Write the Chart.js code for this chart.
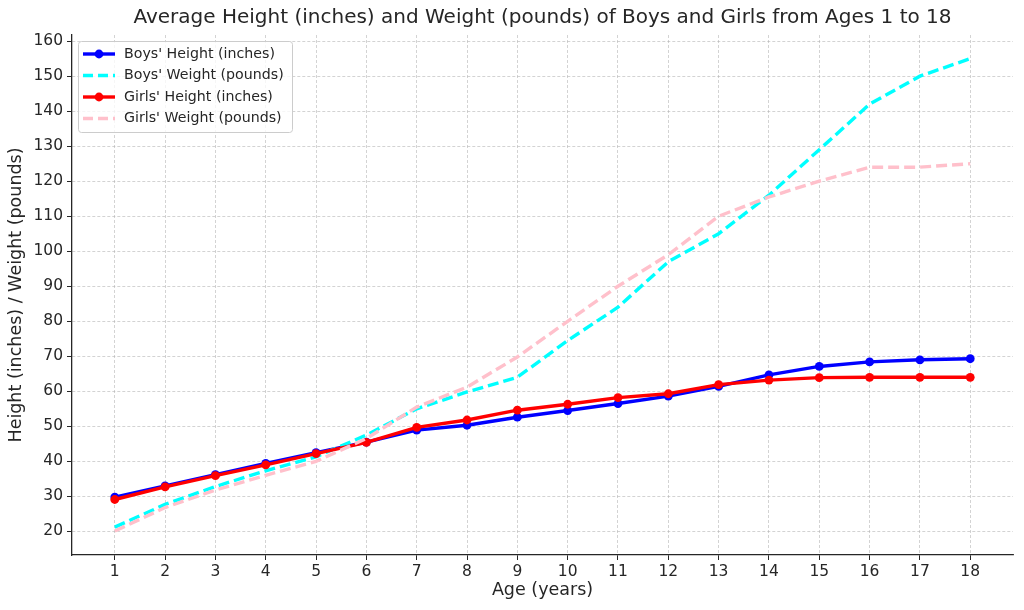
<!DOCTYPE html>
<html>
<head>
<meta charset="utf-8">
<script src="https://cdn.jsdelivr.net/npm/chart.js@4"></script>
<style>
html,body{margin:0;padding:0;background:#fff;}
#wrap{width:1024px;height:610px;position:relative;}
</style>
</head>
<body>
<div id="wrap"><canvas id="c" width="1024" height="610"></canvas></div>
<script>
const ages = [1,2,3,4,5,6,7,8,9,10,11,12,13,14,15,16,17,18];
const boysHeight  = [29.8,33.0,36.2,39.4,42.5,45.5,48.9,50.3,52.6,54.5,56.5,58.6,61.4,64.7,67.1,68.4,69.0,69.3];
const boysWeight  = [21.2,27.7,32.8,37.3,41.3,47.5,55.0,59.8,64.0,74.5,84.0,97.0,105.0,116.0,129.0,142.0,150.0,155.0];
const girlsHeight = [29.1,32.7,35.9,39.0,42.2,45.4,49.7,51.8,54.6,56.3,58.2,59.3,61.9,63.2,63.9,64.0,64.0,64.0];
const girlsWeight = [20.1,26.8,31.8,36.0,40.0,46.5,55.5,61.2,69.8,80.0,90.0,99.0,110.0,115.5,120.0,124.0,124.0,125.0];
const yTicks = [20,30,40,50,60,70,80,90,100,110,120,130,140,150,160];
const labels = ["Boys' Height (inches)","Boys' Weight (pounds)","Girls' Height (inches)","Girls' Weight (pounds)"];
const titleText = "Average Height (inches) and Weight (pounds) of Boys and Girls from Ages 1 to 18";
const xTitle = "Age (years)";
const yTitle = "Height (inches) / Weight (pounds)";

const FONT = "'DejaVu Sans', sans-serif";
const TXT = '#262626';

function pts(vals){ return ages.map((a,i)=>({x:a,y:vals[i]})); }

const dsH = (label, data, color, order) => ({
  label, data: pts(data), borderColor: color, backgroundColor: color,
  borderWidth: 3.4, pointRadius: 4.4, pointHoverRadius: 4.4, pointBorderWidth: 0,
  pointBackgroundColor: color, tension: 0, order, fill:false
});
const dsW = (label, data, color, order) => ({
  label, data: pts(data), borderColor: color, backgroundColor: color,
  borderWidth: 3.4, borderDash: [11,5], pointRadius: 0, tension: 0, order, fill:false
});

const titlePlugin = {
  id: 'titleLegend',
  afterDraw(chart){
    const ctx = chart.ctx;
    const ca = chart.chartArea;
    ctx.save();
    // title
    ctx.fillStyle = TXT;
    ctx.font = "20px " + FONT;
    ctx.textAlign = 'center';
    ctx.textBaseline = 'middle';
    ctx.fillText(titleText, (ca.left+ca.right)/2, 18);
    // y title
    ctx.save();
    ctx.translate(16.5, (ca.top+ca.bottom)/2);
    ctx.rotate(-Math.PI/2);
    ctx.font = "17.5px " + FONT;
    ctx.fillText(yTitle, 0, 0);
    ctx.restore();
    // x title
    ctx.font = "17.5px " + FONT;
    ctx.fillText(xTitle, (ca.left+ca.right)/2, 590);
    // legend
    const bx = 78, by = 41, bw = 214, bh = 91;
    ctx.beginPath();
    ctx.roundRect(bx+0.5, by+0.5, bw, bh, 3);
    ctx.fillStyle = 'rgba(255,255,255,0.8)';
    ctx.fill();
    ctx.strokeStyle = '#cccccc';
    ctx.lineWidth = 1;
    ctx.stroke();
    const rows = [54, 75.5, 97, 118.5];
    chart.data.datasets.forEach((ds, i) => {
      const y = rows[i];
      ctx.save();
      ctx.strokeStyle = ds.borderColor;
      ctx.lineWidth = ds.borderWidth;
      ctx.setLineDash(ds.borderDash ? [10,5] : []);
      ctx.beginPath();
      ctx.moveTo(83, y); ctx.lineTo(115, y);
      ctx.stroke();
      if (ds.pointRadius > 0) {
        ctx.setLineDash([]);
        ctx.fillStyle = ds.borderColor;
        ctx.beginPath();
        ctx.arc(99, y, ds.pointRadius, 0, Math.PI*2);
        ctx.fill();
      }
      ctx.restore();
      ctx.fillStyle = TXT;
      ctx.font = "14.2px " + FONT;
      ctx.textAlign = 'left';
      ctx.textBaseline = 'middle';
      ctx.fillText(ds.label, 124, y);
    });
    ctx.restore();
  }
};

const gridOpts = { color: 'rgba(176,176,176,0.7)', lineWidth: 0.8, tickLength: 5, tickColor: TXT, tickWidth: 1, tickBorderDash: [] };
const borderOpts = { display: true, color: TXT, width: 1.3, dash: [3,2] };

new Chart(document.getElementById('c'), {
  type: 'line',
  data: {
    datasets: [
      dsH(labels[0], boysHeight, '#0000ff', 4),
      dsW(labels[1], boysWeight, '#00ffff', 3),
      dsH(labels[2], girlsHeight, '#ff0000', 2),
      dsW(labels[3], girlsWeight, '#ffc0cb', 1)
    ]
  },
  options: {
    responsive: false,
    animation: false,
    devicePixelRatio: 1,
    layout: { padding: { top: 35, right: 11, left: 0, bottom: 0 } },
    plugins: { legend: { display: false }, title: { display: false }, tooltip: { enabled: false } },
    scales: {
      x: {
        type: 'linear',
        min: 0.15, max: 18.85,
        afterBuildTicks(scale){ scale.ticks = ages.map(v=>({value:v})); },
        afterFit(scale){ scale.height = 55; },
        ticks: { color: TXT, font: { family: FONT, size: 15.5 }, padding: 3, maxRotation: 0, autoSkip: false },
        grid: gridOpts,
        border: borderOpts
      },
      y: {
        type: 'linear',
        min: 13.25, max: 161.75,
        afterBuildTicks(scale){ scale.ticks = yTicks.map(v=>({value:v})); },
        afterFit(scale){ scale.width = 72; },
        ticks: { color: TXT, font: { family: FONT, size: 15.5 }, padding: 4 },
        grid: gridOpts,
        border: borderOpts
      }
    }
  },
  plugins: [titlePlugin]
});
</script>
</body>
</html>
